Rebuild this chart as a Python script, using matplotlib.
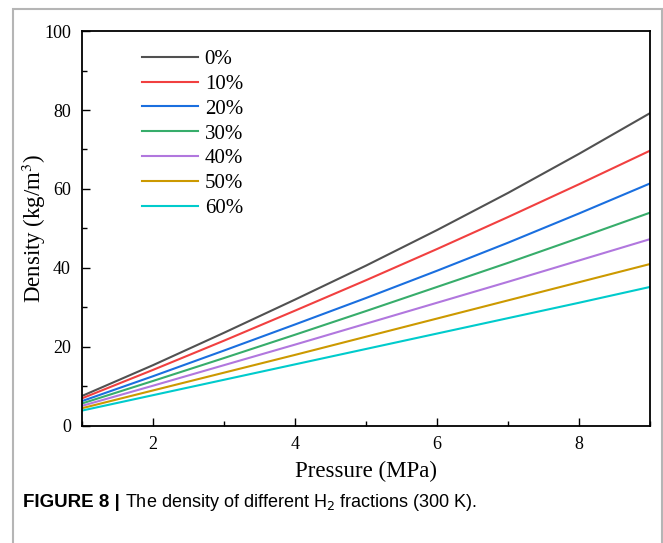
import matplotlib
matplotlib.use("Agg")
import matplotlib.pyplot as plt
from matplotlib.patches import Rectangle
from matplotlib.ticker import MultipleLocator

# Pressure (MPa) and density (kg/m3) for each H2 fraction
pressure = [1, 2, 3, 4, 5, 6, 7, 8, 9]
rho_0 = [7.6, 15.4, 23.6, 32.0, 40.6, 49.6, 59.0, 68.9, 79.2]
rho_10 = [7.0, 14.2, 21.6, 29.2, 36.9, 44.8, 52.9, 61.2, 69.7]
rho_20 = [6.3, 12.6, 19.1, 25.7, 32.4, 39.3, 46.4, 53.8, 61.4]
rho_30 = [5.7, 11.4, 17.2, 23.1, 29.1, 35.2, 41.3, 47.6, 54.0]
rho_40 = [5.1, 10.2, 15.4, 20.6, 25.9, 31.2, 36.5, 41.9, 47.3]
rho_50 = [4.5, 9.0, 13.5, 18.0, 22.6, 27.2, 31.8, 36.4, 41.0]
rho_60 = [3.9, 7.8, 11.7, 15.6, 19.5, 23.4, 27.3, 31.2, 35.2]

labels = ['0%', '10%', '20%', '30%', '40%', '50%', '60%']
series = [rho_0, rho_10, rho_20, rho_30, rho_40, rho_50, rho_60]
colors = ['#515151', '#F14040', '#1A6FDF', '#37AD6B', '#B177DE', '#CC9900', '#00CBCC']

plt.rcParams['font.family'] = ['Liberation Serif', 'DejaVu Serif']
plt.rcParams['mathtext.fontset'] = 'stix'

fig = plt.figure(figsize=(6.63, 5.43), dpi=100)
ax = fig.add_axes([0.1237, 0.2155, 0.8567, 0.7274])

for y, lab, c in zip(series, labels, colors):
    ax.plot(pressure, y, color=c, lw=1.5, label=lab)

ax.set_xlim(1, 9)
ax.set_ylim(0, 100)
ax.xaxis.set_major_locator(MultipleLocator(2))
ax.xaxis.set_minor_locator(MultipleLocator(1))
ax.yaxis.set_major_locator(MultipleLocator(20))
ax.yaxis.set_minor_locator(MultipleLocator(10))
ax.tick_params(which='both', direction='in', top=False, right=False,
               labelsize=13, width=1.0)
ax.tick_params(axis='x', pad=7)
ax.tick_params(axis='y', pad=8)
ax.tick_params(which='major', length=6)
ax.tick_params(which='minor', length=3.5)
for s in ax.spines.values():
    s.set_linewidth(1.3)

ax.set_xlabel('Pressure (MPa)', fontsize=16.5, labelpad=6)
ax.set_ylabel('Density (kg/m$^3$)', fontsize=16.5, labelpad=-3)

ax.legend(loc='upper left', bbox_to_anchor=(0.106, 0.953), frameon=False,
          fontsize=15, handlelength=2.7, handletextpad=0.3,
          labelspacing=0.25, borderpad=0, borderaxespad=0)

# grey frame around the figure panel
fig.patches.append(Rectangle((13 / 663, -0.05), 649 / 663, 1.05 - 9 / 543,
                             transform=fig.transFigure, fill=False,
                             edgecolor='#b5b5b5', lw=1.5))

fig.text(23 / 663, 1 - 507 / 543, 'FIGURE 8 |', fontsize=13.5,
         family='Liberation Sans', fontweight='bold', va='baseline')
fig.text(125 / 663, 1 - 507 / 543,
         'The density of different H$_2$ fractions (300 K).',
         fontsize=13, family='Liberation Sans', va='baseline',
         math_fontfamily='dejavusans')

fig.savefig('out.png', dpi=100)
